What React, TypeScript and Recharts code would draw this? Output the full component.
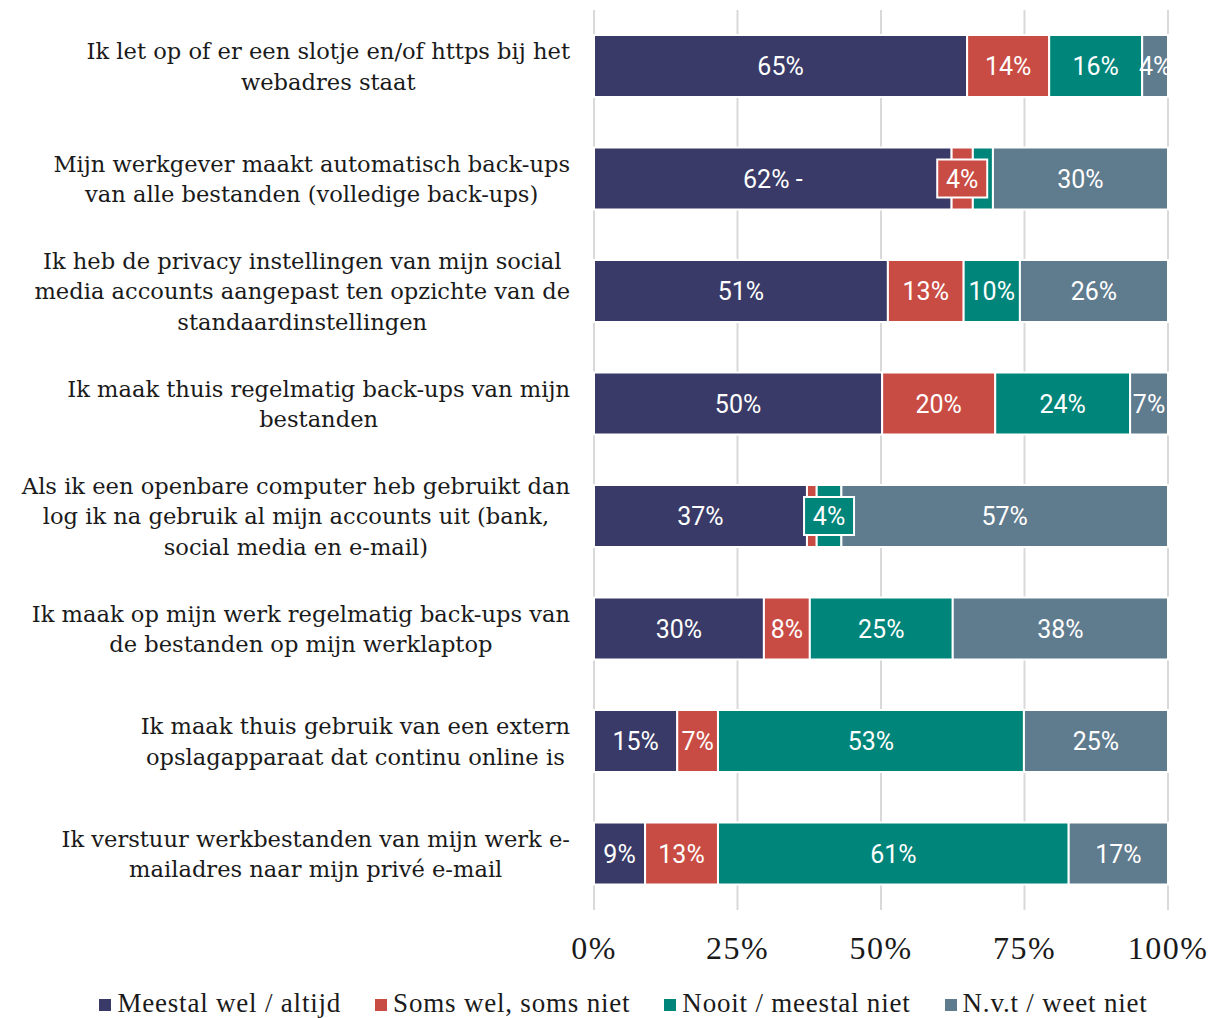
import React from 'react';
import { BarChart, Bar, XAxis, YAxis, CartesianGrid, Legend, LabelList } from 'recharts';

const categories = [
  'Ik let op of er een slotje en/of https bij het\nwebadres staat',
  'Mijn werkgever maakt automatisch back-ups\nvan alle bestanden (volledige back-ups)',
  'Ik heb de privacy instellingen van mijn social\nmedia accounts aangepast ten opzichte van de\nstandaardinstellingen',
  'Ik maak thuis regelmatig back-ups van mijn\nbestanden',
  'Als ik een openbare computer heb gebruikt dan\nlog ik na gebruik al mijn accounts uit (bank,\nsocial media en e-mail)',
  'Ik maak op mijn werk regelmatig back-ups van\nde bestanden op mijn werklaptop',
  'Ik maak thuis gebruik van een extern\nopslagapparaat dat continu online is',
  'Ik verstuur werkbestanden van mijn werk e-\nmailadres naar mijn privé e-mail',
];

const meestalWel = [65.0, 62.3, 51.2, 50.2, 37.1, 29.6, 14.5, 8.9];
const somsWel = [14.3, 3.7, 13.2, 19.7, 1.7, 8.0, 7.1, 12.7];
const nooit = [16.2, 3.5, 9.8, 23.5, 4.3, 24.9, 53.3, 61.1];
const nvt = [4.5, 30.5, 25.8, 6.6, 56.9, 37.5, 25.1, 17.3];

const meestalLabels = ['65%', '62% -', '51%', '50%', '37%', '30%', '15%', '9%'];
const somsLabels = ['14%', '4%', '13%', '20%', '', '8%', '7%', '13%'];
const nooitLabels = ['16%', '', '10%', '24%', '4%', '25%', '53%', '61%'];
const nvtLabels = ['4%', '30%', '26%', '7%', '57%', '38%', '25%', '17%'];

const somsCallouts = [1];
const nooitCallouts = [4];

const xTicks = [0, 25, 50, 75, 100];

const seriesNames = ['Meestal wel / altijd', 'Soms wel, soms niet', 'Nooit / meestal niet', 'N.v.t / weet niet'];
const COLORS = ['#393a67', '#c94c44', '#00857a', '#5f7b8e'];

const data = categories.map((c, i) => ({
  cat: c,
  a: meestalWel[i],
  b: somsWel[i],
  c: nooit[i],
  d: nvt[i],
}));

const CAT_FONT_SIZE = 22.6;
const CAT_FONT = `${CAT_FONT_SIZE}px "DejaVu Serif"`;
let measureCtx: CanvasRenderingContext2D | null = null;
function textWidth(s: string, font: string) {
  if (!measureCtx) measureCtx = document.createElement('canvas').getContext('2d');
  if (!measureCtx) return s.length * 11;
  measureCtx.font = font;
  return measureCtx.measureText(s).width;
}

const CategoryTick = (props: any) => {
  const { x, y, payload } = props;
  const lines = String(payload.value).split('\n');
  const maxW = Math.max(...lines.map((l) => textWidth(l, CAT_FONT)));
  const right = x - 24;
  const cx = right - maxW / 2;
  const lh = 30.5;
  const startY = y - ((lines.length - 1) * lh) / 2;
  return (
    <text fontFamily='"DejaVu Serif"' fontSize={CAT_FONT_SIZE} fill="#1a1a1a" textAnchor="middle">
      {lines.map((l, i) => (
        <tspan key={i} x={cx} y={startY + i * lh} dy="0.36em">
          {l}
        </tspan>
      ))}
    </text>
  );
};

const XTick = (props: any) => {
  const { x, y, payload } = props;
  return (
    <text x={x} y={y + 37} dy="0.36em" textAnchor="middle" fontFamily='"Liberation Serif"' fontSize={32} letterSpacing={1.5} fill="#1a1a1a">
      {payload.value}%
    </text>
  );
};

function makeLabel(labels: string[], callouts: number[], color: string) {
  return (props: any) => {
    const { x, y, width, height, index } = props;
    const text = labels[index];
    if (!text) return null;
    const cx = x + width / 2;
    const cy = y + height / 2;
    if (callouts.includes(index)) {
      const bw = 50;
      const bh = 38;
      return (
        <g>
          <rect x={cx - bw / 2} y={cy - bh / 2} width={bw} height={bh} fill={color} stroke="#fff" strokeWidth={2} />
          <text x={cx} y={cy} dy="0.36em" textAnchor="middle" fontFamily="Roboto" fontSize={25} fill="#fff">
            {text}
          </text>
        </g>
      );
    }
    return (
      <text x={cx} y={cy} dy="0.36em" textAnchor="middle" fontFamily="Roboto" fontSize={25} fill="#fff">
        {text}
      </text>
    );
  };
}

const renderLegend = () => (
  <div
    style={{
      display: 'flex',
      justifyContent: 'center',
      alignItems: 'center',
      height: 30,
      paddingLeft: 36,
      fontFamily: '"Liberation Serif"',
      fontSize: 27,
      letterSpacing: 0.8,
      color: '#1a1a1a',
      whiteSpace: 'nowrap',
    }}
  >
    {seriesNames.map((n, i) => (
      <div key={n} style={{ display: 'flex', alignItems: 'center', marginRight: i < seriesNames.length - 1 ? 34 : 0 }}>
        <span style={{ display: 'inline-block', width: 12, height: 12, background: COLORS[i], marginRight: 6, marginTop: 4 }} />
        <span>{n}</span>
      </div>
    ))}
  </div>
);

export default function App() {
  const keys = ['a', 'b', 'c', 'd'];
  const labelSets = [meestalLabels, somsLabels, nooitLabels, nvtLabels];
  const calloutSets = [[], somsCallouts, nooitCallouts, []];
  return (
    <div style={{ position: 'absolute', left: 0, top: 0, width: 1211, height: 1018, background: '#fff' }}>
      <BarChart
        width={1211}
        height={1018}
        data={data}
        layout="vertical"
        margin={{ top: 10, right: 43, left: 0, bottom: 0 }}
        barSize={62}
      >
        <CartesianGrid horizontal={false} vertical={true} stroke="#d9d9d9" strokeWidth={2} />
        <XAxis
          type="number"
          domain={[0, 100]}
          ticks={xTicks}
          axisLine={false}
          tickLine={false}
          tickSize={0}
          tickMargin={0}
          height={78}
          tick={<XTick />}
          interval={0}
        />
        <YAxis
          type="category"
          dataKey="cat"
          width={594}
          axisLine={false}
          tickLine={false}
          tickSize={0}
          tickMargin={0}
          tick={<CategoryTick />}
          interval={0}
        />
        <Legend
          verticalAlign="bottom"
          content={renderLegend}
          wrapperStyle={{ left: 0, width: 1211 }}
        />
        {keys.map((k, i) => (
          <Bar
            key={k}
            dataKey={k}
            name={seriesNames[i]}
            stackId="s"
            fill={COLORS[i]}
            stroke="#fff"
            strokeWidth={2}
            isAnimationActive={false}
          >
            <LabelList dataKey={k} content={makeLabel(labelSets[i], calloutSets[i], COLORS[i])} />
          </Bar>
        ))}
      </BarChart>
    </div>
  );
}
